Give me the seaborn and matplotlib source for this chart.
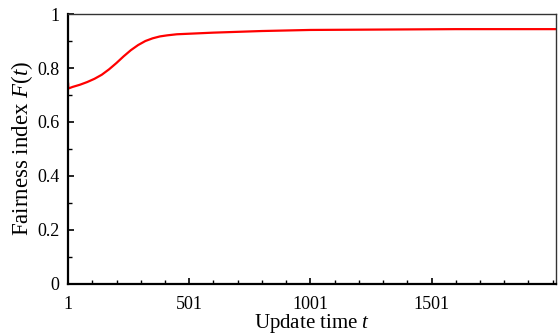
import matplotlib
matplotlib.use("Agg")
import matplotlib.pyplot as plt
import seaborn as sns
import pandas as pd
from matplotlib.ticker import MultipleLocator, FixedLocator

# values
update_time = [1, 2, 20, 50, 80, 110, 140, 170, 200, 230, 260, 290, 320, 350, 380,
               410, 450, 500, 550, 600, 700, 800, 900, 1000, 1200, 1400, 1600, 1800, 2016]
fairness = [0.745, 0.724, 0.730, 0.738, 0.748, 0.760, 0.775, 0.795, 0.818, 0.843, 0.866,
            0.885, 0.900, 0.910, 0.917, 0.921, 0.925, 0.927, 0.929, 0.931, 0.934, 0.937,
            0.939, 0.941, 0.942, 0.943, 0.944, 0.944, 0.944]

x_ticks = [1, 501, 1001, 1501]
y_ticks = [0, 0.2, 0.4, 0.6, 0.8, 1]
y_tick_labels = ["0", "0.2", "0.4", "0.6", "0.8", "1"]

df = pd.DataFrame({"t": update_time, "F": fairness})

sns.set_style("white")
plt.rcParams["font.family"] = ["Liberation Serif", "DejaVu Serif"]
plt.rcParams["mathtext.fontset"] = "custom"
plt.rcParams["mathtext.it"] = "Liberation Serif:italic"
plt.rcParams["mathtext.rm"] = "Liberation Serif"
plt.rcParams["text.color"] = "black"
plt.rcParams["axes.labelcolor"] = "black"
plt.rcParams["xtick.color"] = "black"
plt.rcParams["ytick.color"] = "black"

fig, ax = plt.subplots(figsize=(5.58, 3.34), dpi=100)
sns.lineplot(data=df, x="t", y="F", color="#ff0000", linewidth=1.6, ax=ax)

ax.set_xlim(1, 2016)
ax.set_ylim(0, 1)
ax.xaxis.set_major_locator(FixedLocator(x_ticks))
ax.xaxis.set_minor_locator(FixedLocator([v for v in range(101, 2016, 100)]))
ax.set_yticks(y_ticks)
ax.set_yticklabels(y_tick_labels)
ax.yaxis.set_minor_locator(MultipleLocator(0.1))

ax.tick_params(which="both", direction="in", bottom=True, left=True,
               top=False, right=False, labelsize=13, color="black", labelcolor="black")
ax.tick_params(axis="x", which="major", length=4, width=1.2, pad=9)
ax.tick_params(axis="y", which="major", length=4, width=1.2, pad=6)
ax.tick_params(which="minor", length=3, width=1.0)

for side in ["left", "bottom"]:
    ax.spines[side].set_linewidth(1.6)
    ax.spines[side].set_color("black")
for side in ["top", "right"]:
    ax.spines[side].set_linewidth(1.0)
    ax.spines[side].set_color("#333333")

ax.set_xlabel("Update time $t$", fontsize=15, labelpad=-1)
ax.set_ylabel("Fairness index $F(t)$", fontsize=16.5, labelpad=2)

fig.subplots_adjust(left=0.122, right=0.997, top=0.958, bottom=0.15)
fig.savefig("out.png", dpi=100)
